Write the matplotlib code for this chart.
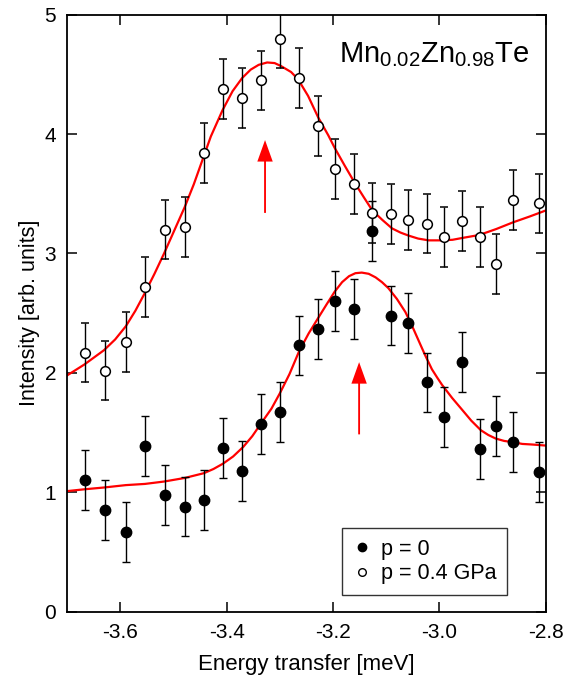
import matplotlib
matplotlib.use("Agg")
import matplotlib.pyplot as plt
from matplotlib.lines import Line2D
from matplotlib.ticker import FixedLocator, FuncFormatter

plt.rcParams['font.family'] = ['Liberation Sans', 'DejaVu Sans']
plt.rcParams['mathtext.fontset'] = 'custom'
plt.rcParams['mathtext.rm'] = 'Liberation Sans'
plt.rcParams['mathtext.default'] = 'regular'

# ---- data ----
energy = [-3.667, -3.630, -3.590, -3.554, -3.517, -3.479, -3.443, -3.407, -3.371,
          -3.336, -3.299, -3.264, -3.229, -3.197, -3.161, -3.126, -3.091, -3.059,
          -3.024, -2.992, -2.958, -2.924, -2.893, -2.862, -2.813]
int_p04 = [2.17, 2.02, 2.26, 2.72, 3.20, 3.22, 3.84, 4.38, 4.30, 4.45, 4.80, 4.47,
           4.07, 3.71, 3.58, 3.34, 3.33, 3.28, 3.25, 3.14, 3.27, 3.14, 2.91, 3.45, 3.42]
err_p04 = [0.25] * 25
int_p0 = [1.10, 0.85, 0.67, 1.39, 0.98, 0.88, 0.935, 1.37, 1.18, 1.57, 1.67, 2.23,
          2.37, 2.60, 2.535, 3.19, 2.48, 2.415, 1.92, 1.63, 2.09, 1.36, 1.555, 1.42, 1.17]
err_p0 = [0.25] * 25

fit_x_p04 = [-3.700, -3.668, -3.631, -3.610, -3.590, -3.572, -3.554, -3.536, -3.518,
             -3.499, -3.479, -3.462, -3.446, -3.430, -3.408, -3.389, -3.371, -3.355,
             -3.340, -3.324, -3.310, -3.298, -3.279, -3.266, -3.247, -3.228, -3.209,
             -3.197, -3.178, -3.159, -3.142, -3.126, -3.107, -3.089, -3.073, -3.058,
             -3.040, -3.020, -2.995, -2.975, -2.957, -2.925, -2.893, -2.862, -2.830,
             -2.800]
fit_y_p04 = [1.98, 2.07, 2.19, 2.28, 2.39, 2.52, 2.67, 2.83, 3.00,
             3.19, 3.39, 3.58, 3.78, 3.98, 4.20, 4.36, 4.47, 4.54,
             4.58, 4.60, 4.595, 4.57, 4.52, 4.46, 4.32, 4.14, 3.99,
             3.885, 3.735, 3.59, 3.47, 3.36, 3.28, 3.21, 3.175, 3.15,
             3.125, 3.11, 3.11, 3.115, 3.13, 3.155, 3.205, 3.26, 3.31,
             3.36]
fit_x_p0 = [-3.700, -3.668, -3.631, -3.590, -3.554, -3.518, -3.479, -3.461, -3.443,
            -3.425, -3.407, -3.388, -3.369, -3.352, -3.335, -3.316, -3.300, -3.282,
            -3.264, -3.246, -3.228, -3.212, -3.197, -3.183, -3.170, -3.158, -3.146,
            -3.133, -3.120, -3.108, -3.096, -3.080, -3.064, -3.052, -3.040, -3.027,
            -3.014, -3.004, -2.995, -2.976, -2.957, -2.940, -2.922, -2.908, -2.894,
            -2.878, -2.862, -2.844, -2.825, -2.796]
fit_y_p0 = [1.01, 1.025, 1.04, 1.06, 1.07, 1.09, 1.12, 1.14, 1.16,
            1.195, 1.24, 1.30, 1.38, 1.47, 1.58, 1.70, 1.83, 1.99,
            2.18, 2.33, 2.46, 2.575, 2.68, 2.76, 2.81, 2.835, 2.84,
            2.83, 2.80, 2.76, 2.71, 2.62, 2.51, 2.40, 2.28, 2.15,
            2.03, 1.96, 1.90, 1.79, 1.69, 1.60, 1.52, 1.48, 1.45,
            1.43, 1.42, 1.405, 1.40, 1.39]

arrow_x = [-3.328, -3.151]
arrow_y_start = [3.34, 1.485]
arrow_y_end = [3.95, 2.09]

x_ticks = [-3.6, -3.4, -3.2, -3.0, -2.8]
y_ticks = [0, 1, 2, 3, 4, 5]

fig = plt.figure(figsize=(5.68, 6.81), dpi=100)
ax = fig.add_axes([0.1185, 0.1018, 0.8422, 0.8766])

red = '#ff0000'
ax.plot(fit_x_p04, fit_y_p04, color=red, lw=1.6, zorder=2, solid_joinstyle='round')
ax.plot(fit_x_p0, fit_y_p0, color=red, lw=1.6, zorder=2, solid_joinstyle='round')

ax.errorbar(energy, int_p04, yerr=err_p04, fmt='o', mfc='white', mec='black', mew=1.1,
            ms=7, ecolor='black', elinewidth=1.0, capsize=3, capthick=1.0, zorder=3)
ax.errorbar(energy, int_p0, yerr=err_p0, fmt='o', mfc='black', mec='black',
            ms=7.5, ecolor='black', elinewidth=1.0, capsize=3, capthick=1.0, zorder=3)

for xa, y0, y1 in zip(arrow_x, arrow_y_start, arrow_y_end):
    ax.arrow(xa, y0, 0, y1 - y0, width=0.0035, head_width=0.029, head_length=0.18,
             length_includes_head=True, color=red, lw=0, zorder=2)

ax.set_xlim(-3.7, -2.8)
ax.set_ylim(0, 5)
ax.xaxis.set_major_locator(FixedLocator(x_ticks))
ax.yaxis.set_major_locator(FixedLocator(y_ticks))
ax.xaxis.set_major_formatter(FuncFormatter(lambda v, p: f"{v:.1f}"))
ax.yaxis.set_major_formatter(FuncFormatter(lambda v, p: f"{v:.0f}"))
ax.tick_params(direction='in', length=7, width=1.1, top=True, right=True,
               labelsize=15, pad=8)
for s in ax.spines.values():
    s.set_linewidth(1.3)

ax.set_xlabel('Energy transfer [meV]', fontsize=16, labelpad=9)
ax.set_ylabel('Intensity [arb. units]', fontsize=15.5, labelpad=3)

ax.text(0.967, 0.921, r'Mn$_{0.02}$Zn$_{0.98}$Te', transform=ax.transAxes,
        ha='right', va='baseline', fontsize=21)

handles = [Line2D([], [], ls='none', marker='o', mfc='black', mec='black', ms=6),
           Line2D([], [], ls='none', marker='o', mfc='white', mec='black', ms=5.5, mew=1)]
leg = ax.legend(handles, ['p = 0', 'p = 0.4 GPa'], loc='lower right',
                bbox_to_anchor=(0.92, 0.028), fontsize=15.5, frameon=True,
                fancybox=False, edgecolor='black', handlelength=0.8,
                handletextpad=0.5, borderpad=0.5, labelspacing=0.15,
                borderaxespad=0)
leg.get_frame().set_linewidth(1.0)

fig.savefig('out.png', dpi=100)
